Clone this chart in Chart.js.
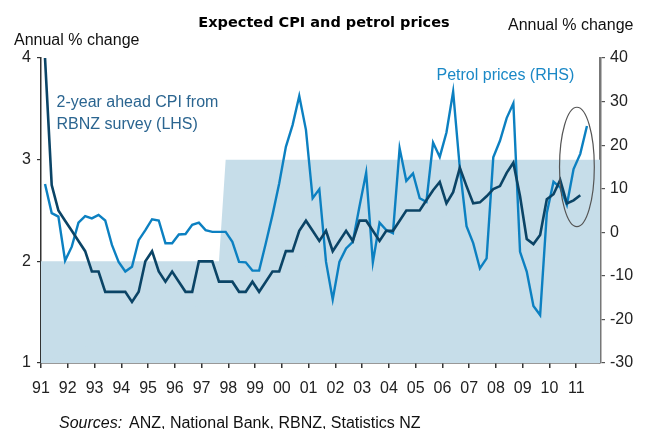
<!DOCTYPE html>
<html>
<head>
<meta charset="utf-8">
<script src="https://cdn.jsdelivr.net/npm/chart.js@4.4.1/dist/chart.umd.min.js"></script>
<style>
  html, body { margin: 0; padding: 0; background: #fff; }
  canvas { display: block; }
</style>
</head>
<body>
<canvas id="cpi_chart" width="647" height="429"></canvas>
<script>
// 年ラベル（X軸）
const yearLabels = ['91', '92', '93', '94', '95', '96', '97', '98', '99', '00', '01',
                    '02', '03', '04', '05', '06', '07', '08', '09', '10', '11'];

// 2年先CPI予想（RBNZ調査, LHS, %） 1991Q1から四半期
const cpiExpected = [
    4.0, 2.75, 2.5, 2.4, 2.3, 2.2, 2.1, 1.9, 1.9, 1.7, 1.7, 1.7, 1.7, 1.6, 1.7, 2.0,
    2.1, 1.9, 1.8, 1.9, 1.8, 1.7, 1.7, 2.0, 2.0, 2.0, 1.8, 1.8, 1.8, 1.7, 1.7, 1.8,
    1.7, 1.8, 1.9, 1.9, 2.1, 2.1, 2.3, 2.4, 2.3, 2.2, 2.3, 2.1, 2.2, 2.3, 2.2, 2.4,
    2.4, 2.3, 2.2, 2.3, 2.3, 2.4, 2.5, 2.5, 2.5, 2.6, 2.7, 2.78, 2.57, 2.68, 2.92, 2.74,
    2.57, 2.58, 2.64, 2.71, 2.74, 2.87, 2.97, 2.64, 2.22, 2.17, 2.26, 2.61, 2.66, 2.8, 2.57, 2.6,
    2.65
];

// ガソリン価格（前年比%, RHS） 1991Q1から四半期
const petrolPrices = [
    11.1, 4.4, 3.6, -6.5, -3.3, 2.2, 3.7, 3.2, 4.0, 2.7, -2.9, -6.8, -9.0, -7.9, -1.8, 0.5,
    3.0, 2.7, -2.5, -2.5, -0.5, -0.4, 1.7, 2.2, 0.5, 0.1, 0.1, 0.1, -2.2, -6.8, -6.9, -8.8,
    -8.8, -2.5, 4.0, 11.2, 19.6, 24.6, 31.3, 23.5, 7.8, 9.9, -6.8, -15.4, -6.8, -3.7, -2.2, 5.9,
    13.7, -6.9, 2.2, 0.5, -0.2, 19.3, 11.8, 13.5, 7.8, 7.0, 20.6, 17.3, 22.9, 32.3, 14.7, 1.4,
    -2.5, -8.3, -6.0, 17.2, 21.0, 26.2, 29.6, -4.5, -9.0, -16.9, -19.0, 4.4, 11.6, 10.3, 6.3, 14.5,
    18.0, 24.4
];

// 目標レンジ上限（網掛け, LHS, %） 1991Q1から四半期
const targetTop = [
    2, 2, 2, 2, 2, 2, 2, 2, 2, 2, 2, 2, 2, 2, 2, 2,
    2, 2, 2, 2, 2, 2, 2, 2, 2, 2, 2, 3, 3, 3, 3, 3,
    3, 3, 3, 3, 3, 3, 3, 3, 3, 3, 3, 3, 3, 3, 3, 3,
    3, 3, 3, 3, 3, 3, 3, 3, 3, 3, 3, 3, 3, 3, 3, 3,
    3, 3, 3, 3, 3, 3, 3, 3, 3, 3, 3, 3, 3, 3, 3, 3,
    3, 3, 3, 3
];

// 左右の目盛
const leftTicks = [1, 2, 3, 4];
const rightTicks = [-30, -20, -10, 0, 10, 20, 30, 40];

// 楕円で囲む部分（四半期位置, RHS値）
const highlight = { q: 80.1, value: 15, halfWidth: 2.6, halfHeight: 13.7 };

// 四半期内の描画位置と軸の範囲
const qOffset = 0.6;
const xMin = 0;
const xMax = 83.55;

const toPoints = arr => arr.map((v, i) => ({ x: i + qOffset, y: v }));

// 網掛けは軸の端まで伸ばす
const bandPoints = [
    { x: xMin, y: targetTop[0] },
    ...toPoints(targetTop),
    { x: xMax, y: targetTop[targetTop.length - 1] },
];

const sansFont = '"Liberation Sans", Arial, sans-serif';

// 文字と楕円を描く
const textPlugin = {
    id: 'chartTexts',
    afterDraw(chart) {
        const ctx = chart.ctx;
        ctx.save();
        ctx.textBaseline = 'alphabetic';

        // タイトル
        ctx.font = 'bold 14.5px "DejaVu Sans", sans-serif';
        ctx.fillStyle = '#000';
        ctx.textAlign = 'center';
        ctx.fillText('Expected CPI and petrol prices', 324, 26.5);

        // 軸タイトル
        ctx.font = '16px ' + sansFont;
        ctx.fillStyle = '#111';
        ctx.textAlign = 'left';
        ctx.fillText('Annual % change', 14, 44.5);
        ctx.fillText('Annual % change', 508, 30);

        // 系列ラベル
        ctx.fillStyle = '#2b6590';
        ctx.fillText('2-year ahead CPI from', 56.5, 107);
        ctx.fillText('RBNZ survey (LHS)', 56.5, 128.5);
        ctx.fillStyle = '#1a88c6';
        ctx.fillText('Petrol prices (RHS)', 436.5, 80);

        // 出所
        ctx.fillStyle = '#111';
        ctx.font = 'italic 16px ' + sansFont;
        ctx.fillText('Sources:', 59, 427.5);
        ctx.font = '16px ' + sansFont;
        ctx.fillText('ANZ, National Bank, RBNZ, Statistics NZ', 129, 427.5);

        // 楕円
        const xs = chart.scales.x;
        const yr = chart.scales.yR;
        const cx = xs.getPixelForValue(highlight.q);
        const cy = yr.getPixelForValue(highlight.value);
        const rx = Math.abs(xs.getPixelForValue(highlight.q + highlight.halfWidth) - cx);
        const ry = Math.abs(yr.getPixelForValue(highlight.value + highlight.halfHeight) - cy);
        ctx.beginPath();
        ctx.ellipse(cx, cy, rx, ry, 0, 0, Math.PI * 2);
        ctx.strokeStyle = '#555';
        ctx.lineWidth = 1.2;
        ctx.stroke();
        ctx.restore();
    }
};

const tickFont = { family: sansFont, size: 16 };

new Chart(document.getElementById('cpi_chart').getContext('2d'), {
    type: 'line',
    data: {
        datasets: [
            // 2年先CPI予想
            {
                label: '2-year ahead CPI from RBNZ survey (LHS)',
                data: toPoints(cpiExpected),
                yAxisID: 'yL',
                borderColor: '#0b4466',
                borderWidth: 2.6,
                pointRadius: 0,
                tension: 0,
                order: 0,
            },
            // ガソリン価格
            {
                label: 'Petrol prices (RHS)',
                data: toPoints(petrolPrices),
                yAxisID: 'yR',
                borderColor: '#0c80c1',
                borderWidth: 2.4,
                pointRadius: 0,
                tension: 0,
                order: 1,
            },
            // 網掛け
            {
                label: 'band',
                data: bandPoints,
                yAxisID: 'yL',
                borderWidth: 0,
                borderColor: 'rgba(0,0,0,0)',
                backgroundColor: '#c6dde9',
                fill: 'start',
                pointRadius: 0,
                tension: 0,
                order: 2,
            },
        ],
    },
    options: {
        responsive: false,
        animation: false,
        devicePixelRatio: 1,
        layout: { padding: { top: 58, left: 0, right: 0, bottom: 0 } },
        plugins: {
            legend: { display: false },
            tooltip: { enabled: false },
            title: { display: false },
        },
        scales: {
            x: {
                type: 'linear',
                min: xMin,
                max: xMax,
                afterFit: s => { s.height = 66; },
                afterBuildTicks: s => { s.ticks = yearLabels.map((_, k) => ({ value: k * 4 })); },
                ticks: {
                    callback: v => yearLabels[Math.round(v / 4)],
                    font: tickFont,
                    color: '#222',
                    padding: 11,
                    maxRotation: 0,
                    autoSkip: false,
                },
                grid: { drawOnChartArea: false, drawTicks: true, tickLength: 5, color: '#333', lineWidth: 1.5 },
                border: { display: true, color: '#333', width: 1.5 },
            },
            yL: {
                type: 'linear',
                position: 'left',
                min: 1,
                max: 4,
                afterFit: s => { s.width = 41; },
                afterBuildTicks: s => { s.ticks = leftTicks.map(v => ({ value: v })); },
                ticks: { font: tickFont, color: '#222', padding: 6 },
                grid: { drawOnChartArea: false, drawTicks: true, tickLength: 4, color: '#333', lineWidth: 1.2 },
                border: { display: true, color: '#333', width: 1.5 },
            },
            yR: {
                type: 'linear',
                position: 'right',
                min: -30,
                max: 40,
                afterFit: s => { s.width = 47; },
                afterBuildTicks: s => { s.ticks = rightTicks.map(v => ({ value: v })); },
                ticks: { font: tickFont, color: '#222', padding: 5 },
                grid: { drawOnChartArea: false, drawTicks: true, tickLength: 5, color: '#555', lineWidth: 1.2 },
                border: { display: true, color: '#777', width: 2.5 },
            },
        },
    },
    plugins: [textPlugin],
});
</script>
</body>
</html>
